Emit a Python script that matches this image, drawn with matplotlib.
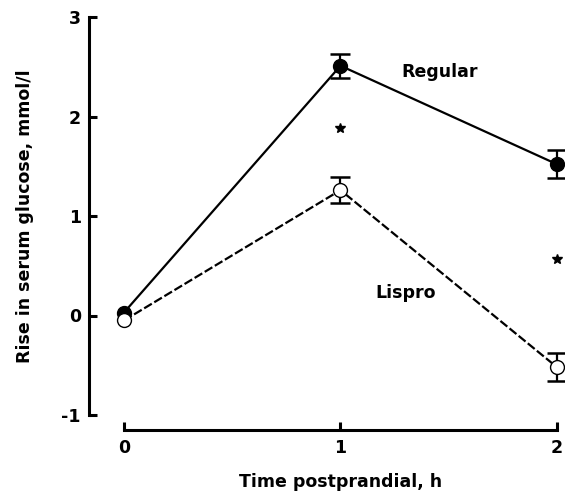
import numpy as np
import matplotlib
matplotlib.use("Agg")
import matplotlib.pyplot as plt

# data
hours = [0, 1, 2]
regular = [0.03, 2.51, 1.52]
lispro = [-0.05, 1.26, -0.52]
regular_sem = [0.12, 0.14]   # at 1 h and 2 h
lispro_sem = [0.13, 0.14]
star_x = [1, 2]
star_y = [1.88, 0.57]

plt.rcParams['font.family'] = ['DejaVu Sans']
plt.rcParams['font.weight'] = 'bold'

fig = plt.figure(figsize=(5.65, 4.95), dpi=100)
ax = fig.add_axes([124 / 565, 80 / 495, 433 / 565, 398 / 495])

# regular insulin: solid line, filled markers
ax.errorbar(hours[1:], regular[1:], yerr=regular_sem, fmt='none', ecolor='black',
            elinewidth=1.6, capsize=7, capthick=1.8, zorder=2, clip_on=False)
ax.plot(hours, regular, '-', color='black', lw=1.6, marker='o', ms=10,
        mfc='black', mec='black', zorder=3, clip_on=False)

# lispro: dashed line, open markers
ax.errorbar(hours[1:], lispro[1:], yerr=lispro_sem, fmt='none', ecolor='black',
            elinewidth=1.6, capsize=7, capthick=1.8, zorder=4, clip_on=False)
ax.plot(hours, lispro, color='black', lw=1.6, linestyle=(0, (4, 1.3)), marker='o',
        ms=10, mfc='white', mec='black', mew=1.0, zorder=5, clip_on=False)

ax.plot(star_x, star_y, ls='none', marker='*', ms=7, color='black', clip_on=False)

ax.text(1.46, 2.45, 'Regular', fontsize=12.5, fontweight='bold', ha='center', va='center')
ax.text(1.30, 0.23, 'Lispro', fontsize=12.5, fontweight='bold', ha='center', va='center')

ax.set_xlim(0, 2)
ax.set_ylim(-1, 3)
ax.set_xticks([0, 1, 2])
ax.set_yticks([-1, 0, 1, 2, 3])
ax.set_yticklabels(['-1', '0', '1', '2', '3'])

for s in ['top', 'right']:
    ax.spines[s].set_visible(False)
ax.spines['left'].set_position(('outward', 25))
ax.spines['bottom'].set_position(('outward', 11))
ax.spines['left'].set_linewidth(2.2)
ax.spines['bottom'].set_linewidth(2.2)
ax.spines['left'].set_bounds(-1, 3)
ax.spines['bottom'].set_bounds(0, 2)

ax.tick_params(direction='in', length=6, width=2.2, labelsize=12.5, pad=6)
for lab in ax.get_xticklabels() + ax.get_yticklabels():
    lab.set_fontweight('bold')

ax.set_xlabel('Time postprandial, h', fontsize=12.5, fontweight='bold', labelpad=12)
ax.set_ylabel('Rise in serum glucose, mmol/l', fontsize=12.5, fontweight='bold', labelpad=20)

fig.savefig('out.png', dpi=100)
